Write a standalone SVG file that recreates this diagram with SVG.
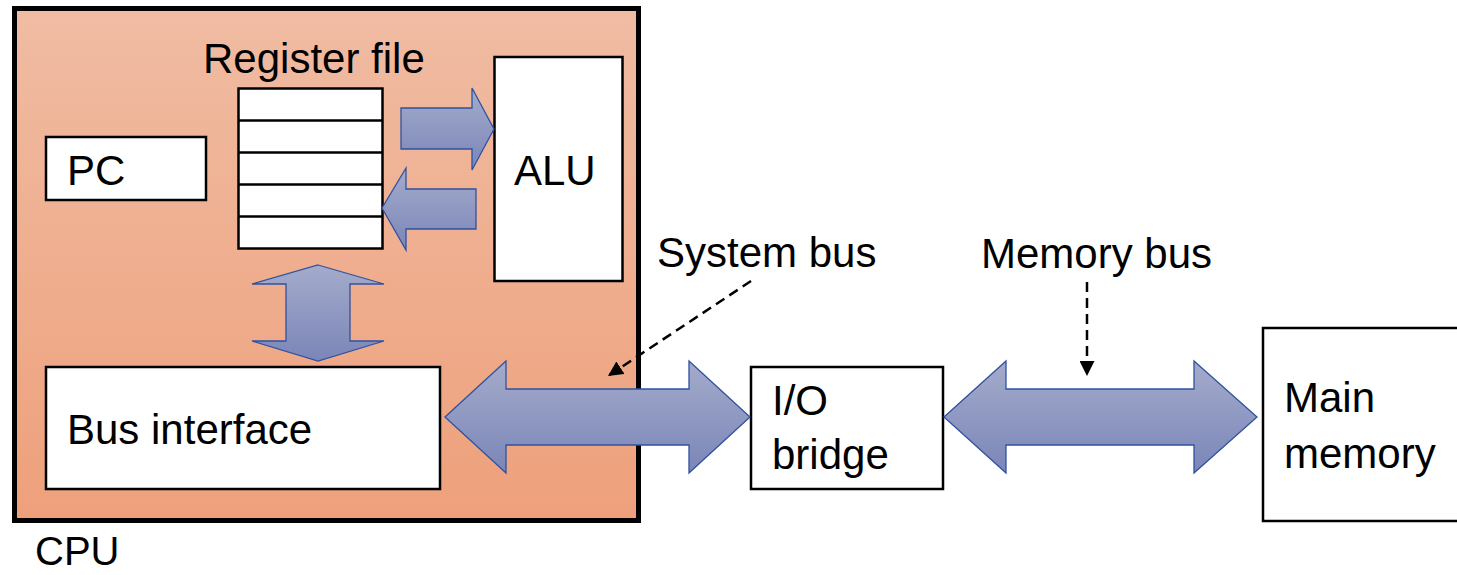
<svg xmlns="http://www.w3.org/2000/svg" width="1457" height="575" viewBox="0 0 1457 575">
<style>
text{font-family:"Liberation Sans",Arial,sans-serif;font-size:42px;fill:#000}
.box{fill:#fff;stroke:#000;stroke-width:2.5}
.bus{fill:url(#arrowGrad);stroke:#2F52A0;stroke-width:1.3}
.dash{fill:none;stroke:#000;stroke-width:2.5;stroke-dasharray:10 6;marker-end:url(#head)}
</style>
<defs>
<linearGradient id="cpuGrad" x1="0" y1="0" x2="0" y2="1">
<stop offset="0" stop-color="#F0BCA3"/>
<stop offset="1" stop-color="#EEA07B"/>
</linearGradient>
<linearGradient id="arrowGrad" x1="0" y1="0" x2="0" y2="1">
<stop offset="0" stop-color="#A4ABCB"/>
<stop offset="1" stop-color="#7B86B8"/>
</linearGradient>
<marker id="head" viewBox="0 0 10 10" refX="10" refY="5" markerWidth="6" markerHeight="6" markerUnits="strokeWidth" orient="auto">
<path d="M0,0 L10,5 L0,10 Z" fill="#000"/>
</marker>
</defs>

<g id="cpu">
<rect x="14.5" y="8.5" width="624" height="512" fill="url(#cpuGrad)" stroke="#000" stroke-width="5"/>
<text x="35" y="565" style="font-size:40px">CPU</text>
</g>

<g id="register-file">
<text x="203" y="73">Register file</text>
<rect class="box" x="238.5" y="88.5" width="144" height="160"/>
<line x1="238.5" y1="120.5" x2="382.5" y2="120.5" stroke="#000" stroke-width="2.5"/>
<line x1="238.5" y1="152.5" x2="382.5" y2="152.5" stroke="#000" stroke-width="2.5"/>
<line x1="238.5" y1="184.5" x2="382.5" y2="184.5" stroke="#000" stroke-width="2.5"/>
<line x1="238.5" y1="216.5" x2="382.5" y2="216.5" stroke="#000" stroke-width="2.5"/>
</g>

<g id="pc">
<rect class="box" x="46" y="137" width="160" height="63"/>
<text x="67" y="185">PC</text>
</g>

<g id="alu">
<rect class="box" x="494.5" y="57" width="128" height="224"/>
<text x="514" y="185">ALU</text>
</g>

<g id="bus-interface">
<rect class="box" x="46" y="367" width="394" height="122"/>
<text x="67" y="444">Bus interface</text>
</g>

<g id="io-bridge">
<rect class="box" x="751" y="367" width="192" height="122"/>
<text x="772" y="415">I/O</text>
<text x="772" y="469">bridge</text>
</g>

<g id="main-memory">
<rect class="box" x="1263" y="328" width="200" height="193"/>
<text x="1284" y="412">Main</text>
<text x="1284" y="468">memory</text>
</g>

<g id="connectors">
<polygon class="bus" points="401,108 472,108 472,88 494,129 472,170 472,149 401,149"/>
<polygon class="bus" points="382,208 406,168 406,189 476,189 476,229 406,229 406,250"/>
<polygon class="bus" points="318,265 384,284 350,284 350,341 384,341 318,361 252,341 286,341 286,284 252,284"/>
<polygon class="bus" points="445,417 506,361 506,389 689,389 689,361 750,417 689,473 689,445 506,445 506,473"/>
<polygon class="bus" points="944,417 1006,361 1006,389 1194,389 1194,361 1257,417 1194,473 1194,445 1006,445 1006,473"/>
<line class="dash" x1="751" y1="281" x2="608" y2="376"/>
<line class="dash" x1="1087" y1="282" x2="1087" y2="376"/>
<text x="657" y="267">System bus</text>
<text x="981" y="268">Memory bus</text>
</g>
</svg>
